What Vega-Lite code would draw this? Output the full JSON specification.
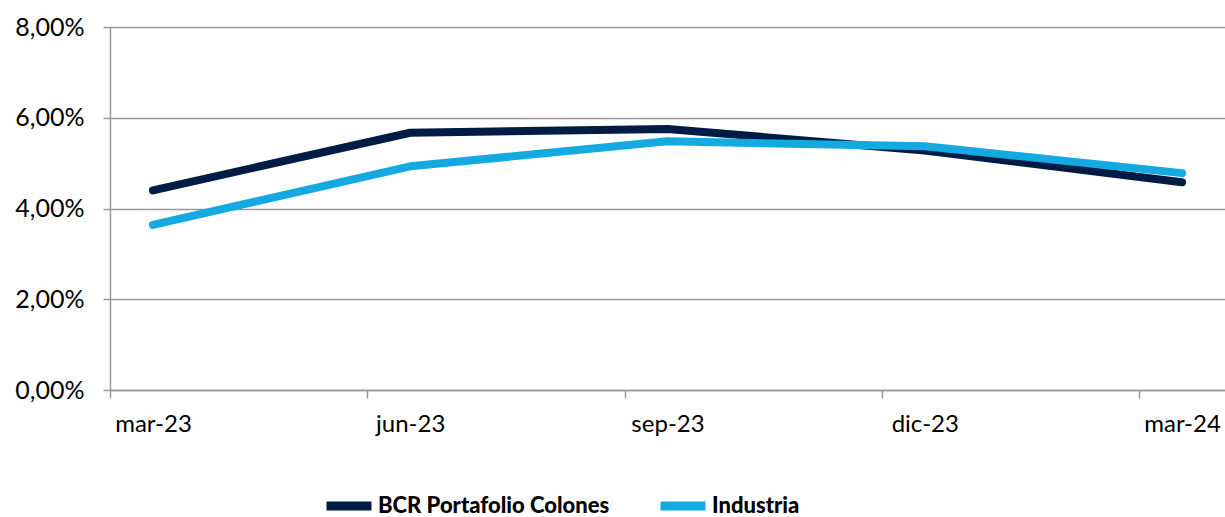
{
  "$schema": "https://vega.github.io/schema/vega-lite/v6.json",
  "width": 1115,
  "height": 363,
  "autosize": {"type": "none"},
  "padding": {"left": 110, "top": 27, "right": 0, "bottom": 127},
  "background": "white",
  "data": {
    "values": [
      {"fecha": "mar-23", "serie": "BCR Portafolio Colones", "valor": 0.0440},
      {"fecha": "jun-23", "serie": "BCR Portafolio Colones", "valor": 0.0567},
      {"fecha": "sep-23", "serie": "BCR Portafolio Colones", "valor": 0.0575},
      {"fecha": "dic-23", "serie": "BCR Portafolio Colones", "valor": 0.0528},
      {"fecha": "mar-24", "serie": "BCR Portafolio Colones", "valor": 0.0458},
      {"fecha": "mar-23", "serie": "Industria", "valor": 0.0364},
      {"fecha": "jun-23", "serie": "Industria", "valor": 0.0493},
      {"fecha": "sep-23", "serie": "Industria", "valor": 0.0548},
      {"fecha": "dic-23", "serie": "Industria", "valor": 0.0537},
      {"fecha": "mar-24", "serie": "Industria", "valor": 0.0478}
    ]
  },
  "mark": {"type": "line", "strokeWidth": 8, "strokeCap": "round", "strokeJoin": "round"},
  "encoding": {
    "x": {
      "field": "fecha",
      "type": "ordinal",
      "sort": ["mar-23", "jun-23", "sep-23", "dic-23", "mar-24"],
      "scale": {"type": "point", "padding": 0.167},
      "axis": {
        "title": null,
        "labelAngle": 0,
        "grid": false,
        "domain": true,
        "domainColor": "#999999",
        "domainWidth": 1.5,
        "ticks": true,
        "tickColor": "#999999",
        "tickWidth": 1.5,
        "tickSize": 8,
        "tickOffset": -43,
        "labelOffset": 43,
        "labelPadding": 14,
        "labelFont": "Lato",
        "labelFontSize": 24,
        "labelColor": "#000000"
      }
    },
    "y": {
      "field": "valor",
      "type": "quantitative",
      "scale": {"domain": [0, 0.08], "nice": false, "zero": true},
      "axis": {
        "title": null,
        "values": [0, 0.02, 0.04, 0.06, 0.08],
        "labelExpr": "replace(format(datum.value, '.2%'), '.', ',')",
        "grid": true,
        "gridColor": "#999999",
        "gridWidth": 1.5,
        "domain": true,
        "domainColor": "#999999",
        "domainWidth": 1.5,
        "ticks": true,
        "tickColor": "#999999",
        "tickWidth": 1.5,
        "tickSize": 7,
        "labelPadding": 19,
        "labelFont": "Lato",
        "labelFontSize": 25,
        "labelColor": "#000000"
      }
    },
    "color": {
      "field": "serie",
      "type": "nominal",
      "scale": {"domain": ["BCR Portafolio Colones", "Industria"], "range": ["#001c44", "#14a9e1"]},
      "legend": {
        "title": null,
        "orient": "none",
        "legendX": 212,
        "legendY": 452,
        "direction": "horizontal",
        "padding": 0,
        "symbolType": "stroke",
        "symbolSize": 2025,
        "symbolStrokeWidth": 9,
        "labelFont": "Lato",
        "labelFontSize": 22,
        "labelFontWeight": 900,
        "labelColor": "#000000",
        "labelOffset": 2,
        "labelLimit": 500,
        "columnPadding": 32
      }
    }
  },
  "config": {"view": {"stroke": null}}
}
